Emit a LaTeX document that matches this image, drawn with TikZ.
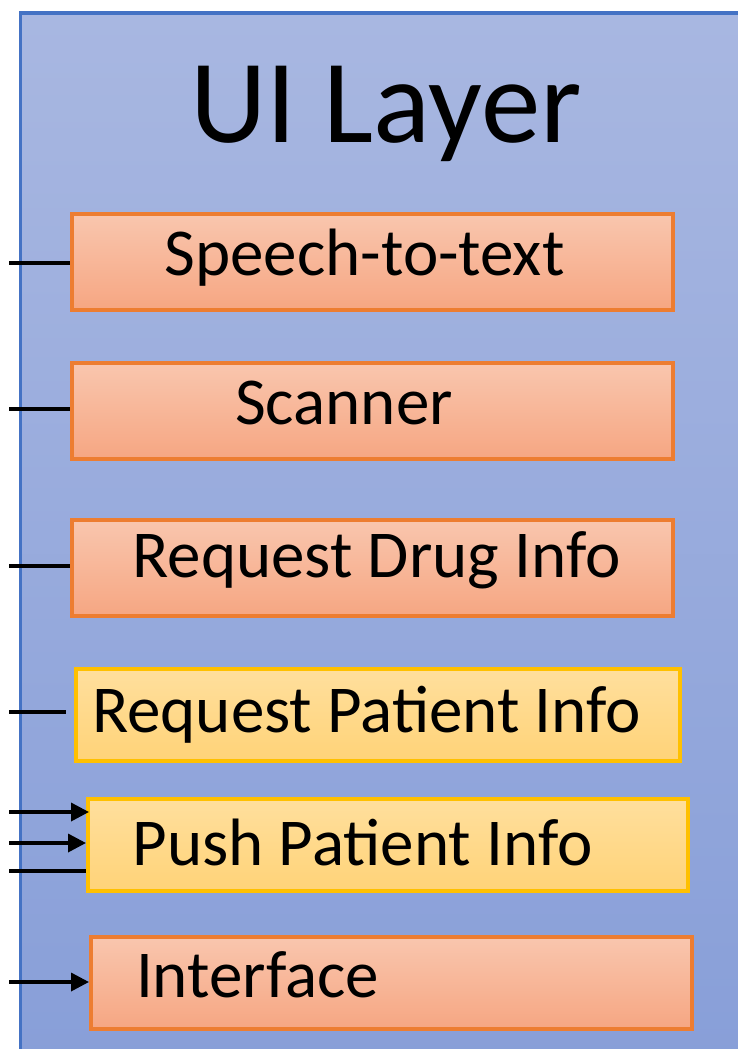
\documentclass[tikz,border=0pt]{standalone}
\usepackage{fontspec}
\setmainfont{Carlito}
\usetikzlibrary{arrows.meta}
\definecolor{layerborder}{HTML}{4472C4}
\definecolor{layertop}{RGB}{168,183,225}
\definecolor{layerbot}{RGB}{135,158,216}
\definecolor{orbord}{HTML}{ED7D31}
\definecolor{ortop}{RGB}{249,198,174}
\definecolor{orbot}{RGB}{246,166,130}
\definecolor{yebord}{HTML}{FFC000}
\definecolor{yetop}{RGB}{255,223,157}
\definecolor{yebot}{RGB}{255,211,120}
\begin{document}
\begin{tikzpicture}[x=1pt,y=-1pt,
  layerbox/.style={draw=layerborder, line width=3.5pt, top color=layertop, bottom color=layerbot, inner sep=0pt, anchor=north west},
  obox/.style={draw=orbord, line width=4pt, top color=ortop, bottom color=orbot, inner sep=0pt},
  ybox/.style={draw=yebord, line width=4pt, top color=yetop, bottom color=yebot, inner sep=0pt},
  lbl/.style={inner sep=0pt, anchor=base, text=black, font=\fontsize{67}{72}\selectfont},
  conn/.style={draw=black, line width=3.5pt},
  aconn/.style={conn, -{Triangle[length=18pt,width=18pt]}}
]
\clip (0,0) rectangle (738,1049);
\node[layerbox, minimum width=760pt, minimum height=1080pt] (layer) at (18.5,11.5) {};
\node[inner sep=0pt, anchor=base, font=\fontsize{119}{124}\selectfont] (title) at (386,142) {UI Layer};

\node[obox, minimum width=601pt, minimum height=96pt] (p1) at (372.5,262) {};
\node[obox, minimum width=601pt, minimum height=96pt] (p2) at (372.5,411) {};
\node[obox, minimum width=601pt, minimum height=96pt] (p3) at (372.5,568) {};
\node[ybox, minimum width=604pt, minimum height=92pt] (p4) at (378,715) {};
\node[ybox, minimum width=600pt, minimum height=92pt] (p5) at (388,845) {};
\node[obox, minimum width=601pt, minimum height=92pt] (p6) at (391.5,983) {};

\node[lbl] (t1) at (364.5,275) {Speech-to-text};
\node[lbl] (t2) at (344,424) {Scanner};
\node[lbl] (t3) at (376.5,577) {Request Drug Info};
\node[lbl] (t4) at (366.5,732) {Request Patient Info};
\node[lbl] (t5) at (362.5,865) {Push Patient Info};
\node[lbl] (t6) at (257.5,997) {Interface};

\coordinate (c1) at (9,263);
\coordinate (c2) at (9,409);
\coordinate (c3) at (9,566);
\coordinate (c4) at (9,712);
\coordinate (c5a) at (9,812);
\coordinate (c5b) at (9,843);
\coordinate (c5c) at (9,871);
\coordinate (c6) at (9,982);

\draw[conn] (c1) -- (c1 -| p1.west);
\draw[conn] (c2) -- (c2 -| p2.west);
\draw[conn] (c3) -- (c3 -| p3.west);
\draw[conn] (c4) -- ([xshift=-8pt]c4 -| p4.west);
\draw[aconn] (c5a) -- ([xshift=3pt]c5a -| p5.west);
\draw[aconn] (c5b) -- (c5b -| p5.west);
\draw[conn] (c5c) -- (c5c -| p5.west);
\draw[aconn] (c6) -- (c6 -| p6.west);
\end{tikzpicture}
\end{document}
